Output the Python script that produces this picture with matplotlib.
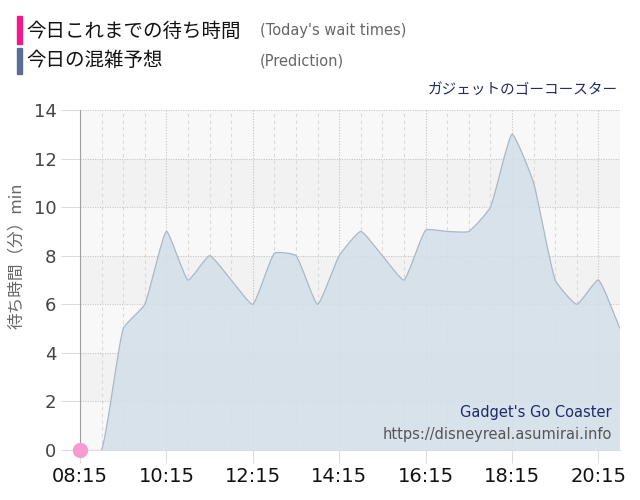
import numpy as np
import matplotlib
matplotlib.use("Agg")
from matplotlib import pyplot as plt
from matplotlib.path import Path
from matplotlib.patches import PathPatch, Rectangle

plt.rcParams['font.family'] = ['DejaVu Sans', 'Noto Sans CJK JP']
JP = ['Noto Sans CJK JP', 'DejaVu Sans']

# prediction, every 30 min from 08:15
times = ["08:15", "08:45", "09:15", "09:45", "10:15", "10:45", "11:15", "11:45",
         "12:15", "12:45", "13:15", "13:45", "14:15", "14:45", "15:15", "15:45",
         "16:15", "16:45", "17:15", "17:45", "18:15", "18:45", "19:15", "19:45",
         "20:15", "20:45"]
pred = [0, 0, 5, 6, 9, 7, 8, 7, 6, 8.1, 8, 6, 8, 9, 8, 7, 9.05, 9, 9, 10, 13, 11, 7, 6, 7, 5]

# today's actual wait times so far
actual_times = ["08:15"]
actual = [0]

tick_labels = ["08:15", "10:15", "12:15", "14:15", "16:15", "18:15", "20:15"]


def to_min(s):
    h, m = s.split(":")
    return int(h) * 60 + int(m)


x = np.array([to_min(t) for t in times], dtype=float)
y = np.array(pred, dtype=float)
xmin, xmax = x[0], x[-1]
ymin, ymax = 0, 14

fig = plt.figure(figsize=(6.4, 5.0), dpi=100)
ax = fig.add_axes([80 / 640, 50 / 500, 540 / 640, 340 / 500])
ax.set_xlim(xmin, xmax)
ax.set_ylim(ymin, ymax)

# alternating bands
for lo in range(0, 14, 2):
    c = '#f8f8f8' if (lo // 2) % 2 == 0 else '#f2f2f2'
    ax.axhspan(lo, lo + 2, color=c, zorder=0, lw=0)

# grid
for t in np.arange(xmin, xmax + 1, 30):
    if (t - xmin) % 120 == 0:
        ax.axvline(t, color='#c4c4c4', lw=0.8, ls=(0, (1, 1.5)), zorder=1)
    else:
        ax.axvline(t, color='#dadada', lw=0.8, ls=(0, (3, 3)), zorder=1)
for v in range(0, 15, 2):
    ax.axhline(v, color='#c8c8c8', lw=0.8, ls=(0, (1, 1.2)), zorder=1)

# chart.js style spline, computed in pixel space
sx = 540 / (xmax - xmin)
sy = 340 / (ymax - ymin)
px, py = (x - xmin) * sx, y * sy
n = len(px)
tension = 0.15
cp_prev = np.zeros((n, 2))
cp_next = np.zeros((n, 2))
for i in range(n):
    p0 = (px[max(i - 1, 0)], py[max(i - 1, 0)])
    p1 = (px[i], py[i])
    p2 = (px[min(i + 1, n - 1)], py[min(i + 1, n - 1)])
    d01 = np.hypot(p1[0] - p0[0], p1[1] - p0[1])
    d12 = np.hypot(p2[0] - p1[0], p2[1] - p1[1])
    tot = d01 + d12
    s01 = d01 / tot if tot else 0
    s12 = d12 / tot if tot else 0
    fa, fb = tension * s01, tension * s12
    cp_prev[i] = (p1[0] - fa * (p2[0] - p0[0]), p1[1] - fa * (p2[1] - p0[1]))
    cp_next[i] = (p1[0] + fb * (p2[0] - p0[0]), p1[1] + fb * (p2[1] - p0[1]))


def back(p):
    return (p[0] / sx + xmin, p[1] / sy)


verts = [(x[0], y[0])]
codes = [Path.MOVETO]
for i in range(1, n):
    verts += [back(cp_next[i - 1]), back(cp_prev[i]), (x[i], y[i])]
    codes += [Path.CURVE4] * 3
line_path = Path(verts, codes)
fill_path = Path(verts + [(x[-1], 0), (x[0], 0), (x[0], y[0])],
                 codes + [Path.LINETO, Path.LINETO, Path.CLOSEPOLY])
ax.add_patch(PathPatch(fill_path, facecolor='#d3dfe9', edgecolor='none', alpha=0.85, zorder=2))
ax.add_patch(PathPatch(line_path, facecolor='none', edgecolor='#aab8c6', lw=0.9, zorder=3))

ax.plot([to_min(t) for t in actual_times], actual, 'o', ms=11, color='#f79ad0',
        mec='none', zorder=5, clip_on=False)

# axes styling
for s in ['top', 'right']:
    ax.spines[s].set_visible(False)
ax.spines['left'].set_color('#a0a0a0')
ax.spines['bottom'].set_color('#dddddd')
ax.set_yticks(range(0, 15, 2))
ax.set_xticks([to_min(t) for t in tick_labels])
ax.set_xticklabels(tick_labels)
ax.tick_params(axis='y', length=14, color='#dddddd', labelsize=13, labelcolor='#444444', pad=3)
ax.tick_params(axis='x', length=9, color='#dddddd', labelsize=14, labelcolor='#111111', pad=3)
ax.set_ylabel('待ち時間（分）min', family=JP, fontsize=12, color='#666666')
ax.yaxis.set_label_coords(-0.102, 0.57)

# bottom-right credits
ax.text(0.985, 0.11, "Gadget's Go Coaster", transform=ax.transAxes, ha='right', va='center',
        fontsize=10.5, color='#1f2a6b', zorder=6)
ax.text(0.985, 0.045, 'https://disneyreal.asumirai.info', transform=ax.transAxes, ha='right',
        va='center', fontsize=10.5, color='#555555', zorder=6)

# legend at top
fig.patches.append(Rectangle((17 / 640, 1 - 44 / 500), 5 / 640, 28 / 500, transform=fig.transFigure,
                             color='#ee1a8c', figure=fig))
fig.patches.append(Rectangle((17 / 640, 1 - 74 / 500), 5 / 640, 26 / 500, transform=fig.transFigure,
                             color='#5a6c98', figure=fig))
fig.text(26 / 640, 1 - 31 / 500, '今日これまでの待ち時間', family=JP, fontsize=14, va='center', color='#111111')
fig.text(26 / 640, 1 - 61 / 500, '今日の混雑予想', family=JP, fontsize=14, va='center', color='#111111')
fig.text(260 / 640, 1 - 31 / 500, "(Today's wait times)", fontsize=10.5, va='center', color='#666666')
fig.text(260 / 640, 1 - 61 / 500, '(Prediction)', fontsize=10.5, va='center', color='#666666')
fig.text(618 / 640, 1 - 90 / 500, 'ガジェットのゴーコースター', family=JP, fontsize=10.5, ha='right',
         va='center', color='#1f2a6b')

fig.savefig('out.png', dpi=100)
